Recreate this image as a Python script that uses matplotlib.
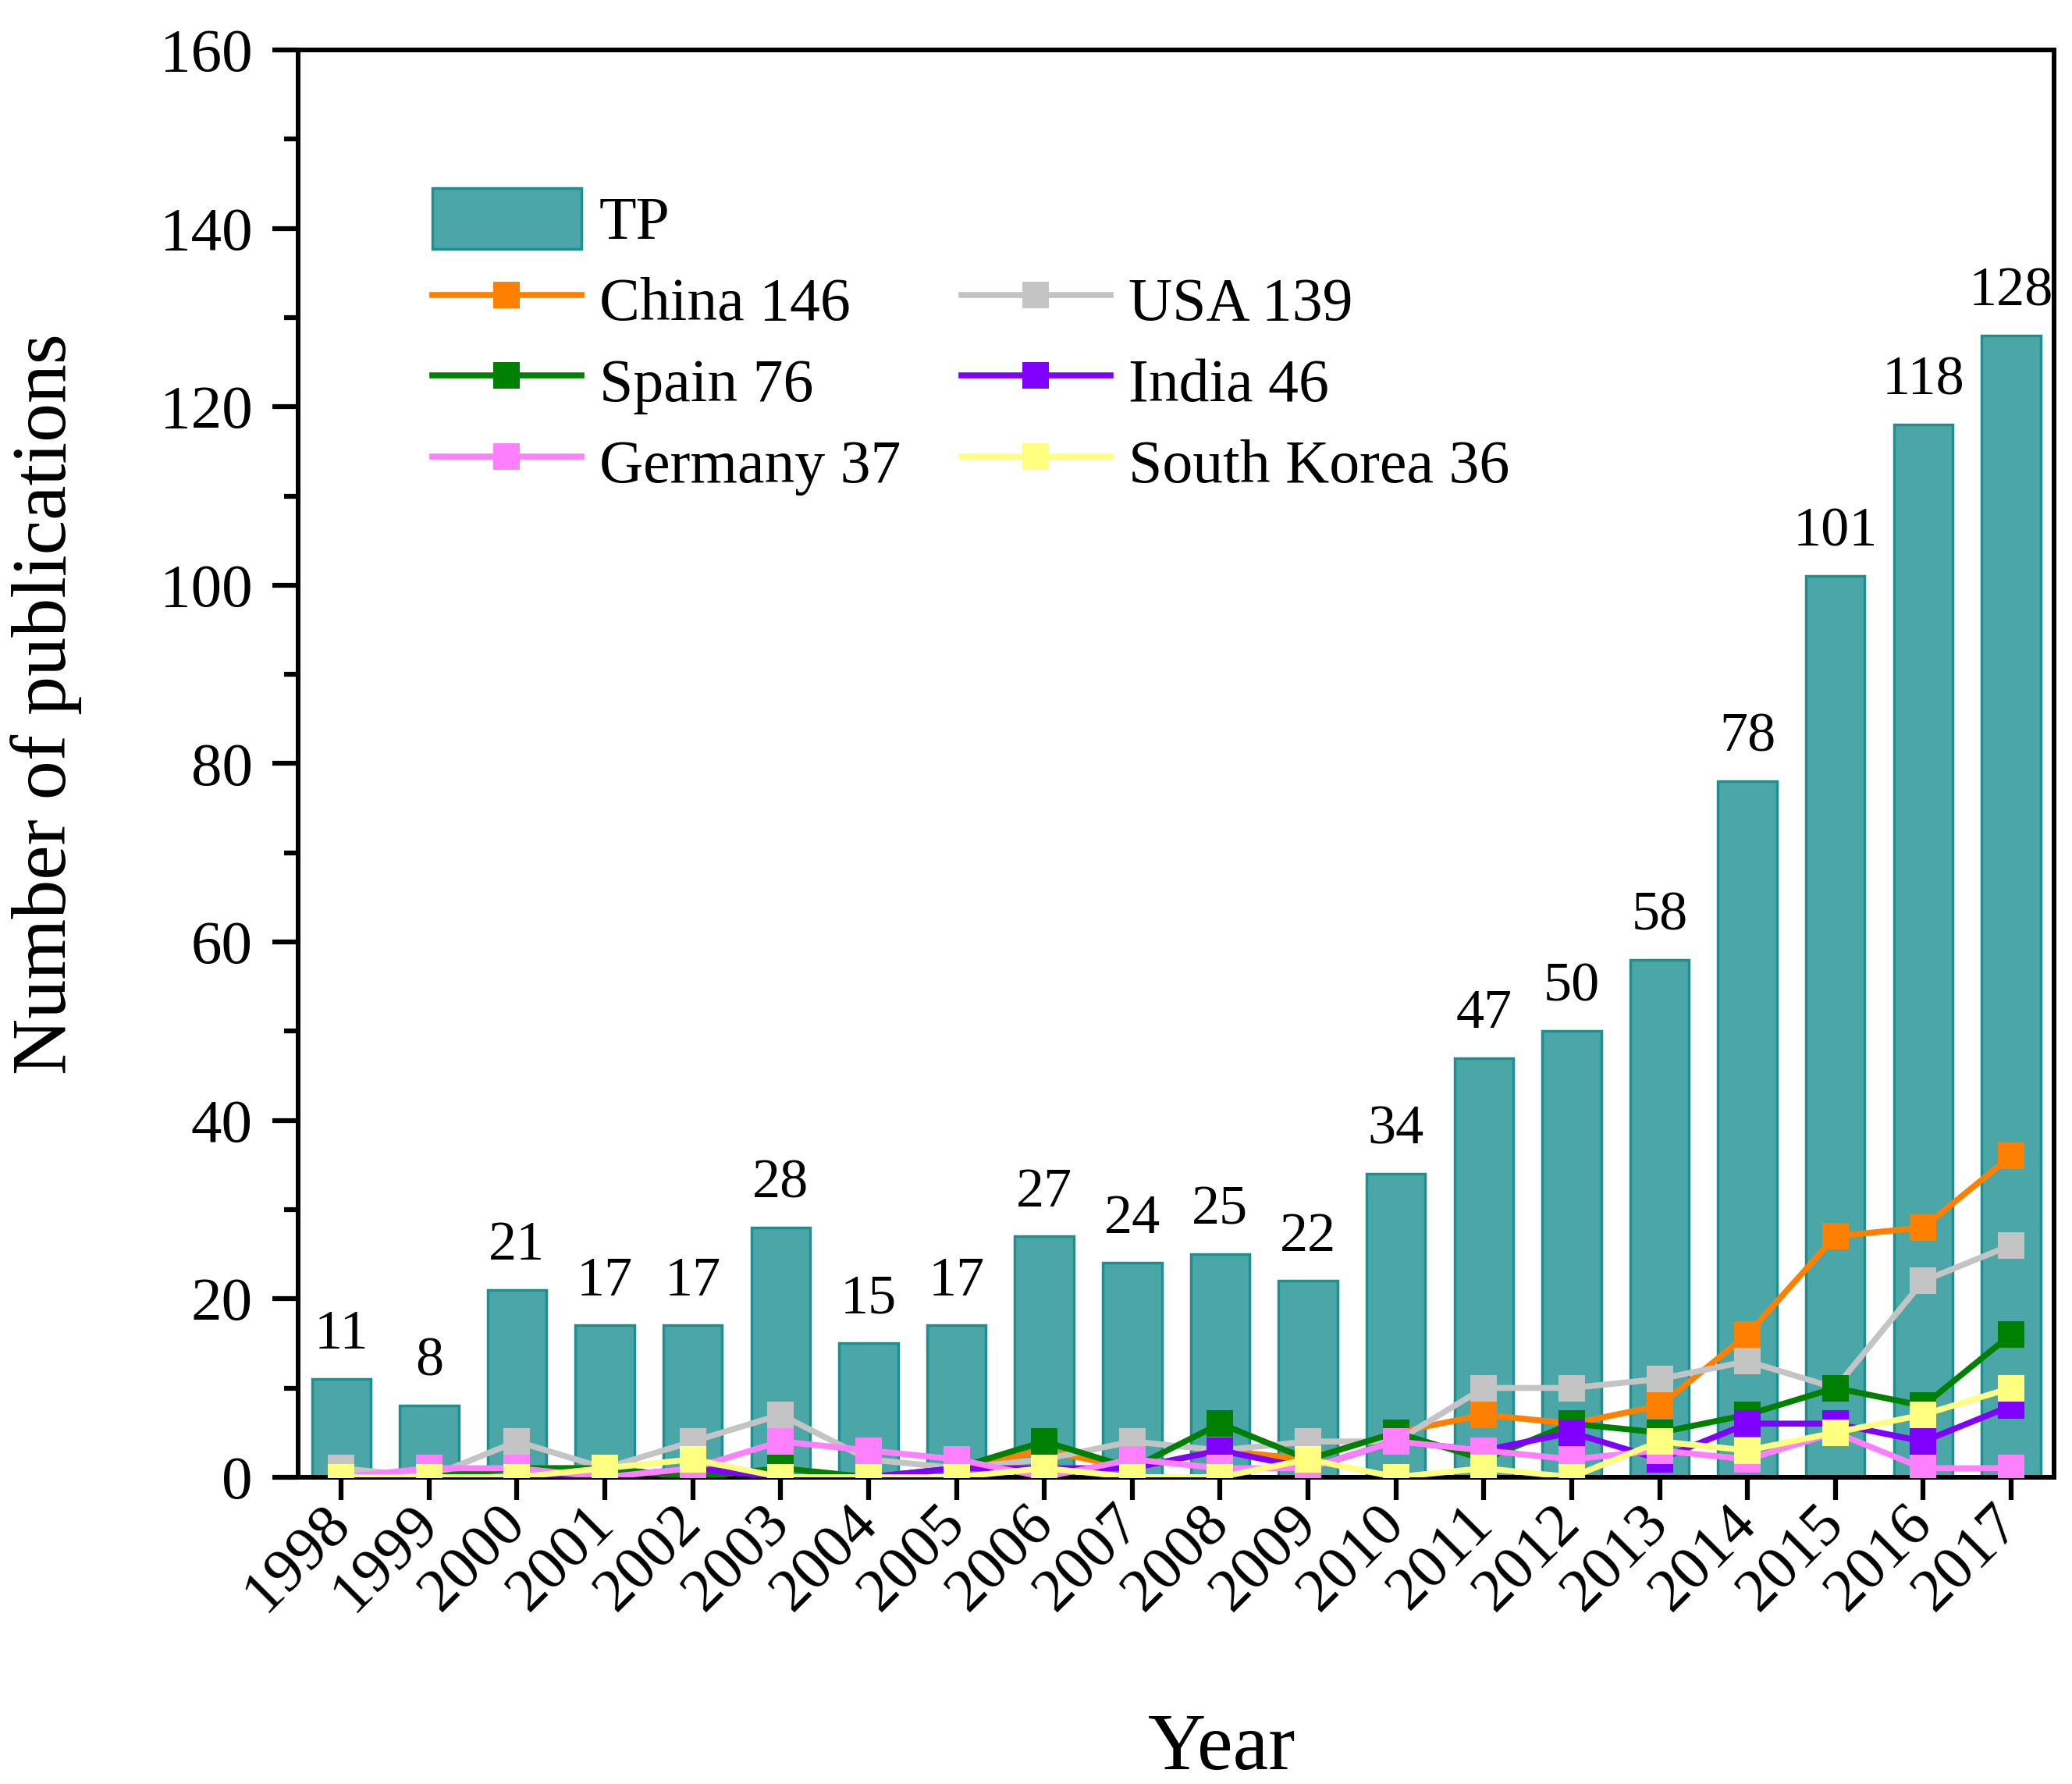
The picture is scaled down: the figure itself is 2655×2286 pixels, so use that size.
import numpy as np
import matplotlib
matplotlib.use("Agg")
import matplotlib.pyplot as plt
import matplotlib.transforms as mtransforms
from matplotlib.patches import Patch, Rectangle
from matplotlib.legend_handler import HandlerPatch

plt.rcParams["font.family"] = ["Liberation Serif", "DejaVu Serif"]

years = list(range(1998, 2018))
tp = [11, 8, 21, 17, 17, 28, 15, 17, 27, 24, 25, 22, 34, 47, 50, 58, 78, 101, 118, 128]

# per-country publications per year
china = [0, 0, 1, 1, 0, 1, 0, 1, 3, 1, 3, 2, 5, 7, 6, 8, 16, 27, 28, 36]
usa = [1, 0, 4, 1, 4, 7, 2, 1, 2, 4, 3, 4, 4, 10, 10, 11, 13, 10, 22, 26]
spain = [0, 0, 1, 1, 0, 1, 0, 1, 4, 1, 6, 2, 5, 2, 6, 5, 7, 10, 8, 16]
india = [0, 0, 0, 0, 1, 0, 0, 1, 1, 1, 3, 1, 4, 3, 5, 2, 6, 6, 4, 8]
germany = [0, 1, 1, 0, 1, 4, 3, 2, 0, 2, 1, 1, 4, 3, 2, 3, 2, 5, 1, 1]
korea = [0, 0, 0, 1, 2, 0, 0, 0, 1, 0, 0, 2, 0, 1, 0, 4, 3, 5, 7, 10]

series = [
    ("China 146", china, "#FF8000"),
    ("USA 139", usa, "#C4C4C4"),
    ("Spain 76", spain, "#008000"),
    ("India 46", india, "#8000FF"),
    ("Germany 37", germany, "#FF80FF"),
    ("South Korea 36", korea, "#FFFF80"),
]


def tall_patch(legend, orig_handle, xdescent, ydescent, width, height, fontsize):
    # legend box for TP is taller than the text rows
    extra = 0.3 * height
    return Rectangle((-xdescent, -ydescent - extra / 2), width, height + extra)


fig = plt.figure(figsize=(26.55, 22.86), dpi=100)
ax = fig.add_axes([0.1439, 0.172, 0.8475, 0.800])

bars = ax.bar(years, tp, width=0.67, color="#4BA7A7", edgecolor="#1E8E8E",
              linewidth=2.5, zorder=1, label="TP")
ax.bar_label(bars, labels=[str(v) for v in tp], padding=17, fontsize=52)

handles = {}
for name, vals, col in series:
    h, = ax.plot(years, vals, color=col, linewidth=5.5, marker="s",
                 markersize=24, markeredgewidth=0, label=name, zorder=3)
    handles[name] = h

ax.set_xlim(1997.51, 2017.49)
ax.set_ylim(0, 160)
ax.set_yticks(np.arange(0, 161, 20))
ax.set_yticks(np.arange(10, 160, 20), minor=True)
ax.set_xticks(years)
ax.set_xticklabels([str(y) for y in years], rotation=45, ha="right",
                   va="center", rotation_mode="anchor")
shift = mtransforms.ScaledTranslation(29 / 72, -15 / 72, fig.dpi_scale_trans)
for lab in ax.get_xticklabels():
    lab.set_transform(lab.get_transform() + shift)

for sp in ax.spines.values():
    sp.set_linewidth(4.3)
ax.tick_params(axis="both", which="major", direction="out", width=4.5,
               labelsize=57, top=False, right=False)
ax.tick_params(axis="y", which="major", length=24, pad=18)
ax.tick_params(axis="y", which="minor", length=13, width=4.5, direction="out")
ax.tick_params(axis="x", which="major", length=21, pad=14)

ax.set_xlabel("Year", fontsize=74)
ax.xaxis.set_label_coords(0.526, -0.165)
ax.set_ylabel("Number of publications", fontsize=72)
ax.yaxis.set_label_coords(-0.123, 0.542)

blank = Patch(facecolor="none", edgecolor="none", label="")
leg_handles = [bars, handles["China 146"], handles["Spain 76"], handles["Germany 37"],
               blank, handles["USA 139"], handles["India 46"], handles["South Korea 36"]]
leg_labels = ["TP", "China 146", "Spain 76", "Germany 37",
              "", "USA 139", "India 46", "South Korea 36"]
ax.legend(leg_handles, leg_labels, ncol=2, loc="upper left",
          bbox_to_anchor=(0.0764, 0.903), frameon=False, fontsize=56,
          handlelength=2.45, handleheight=1.15, handletextpad=0.3,
          labelspacing=0.28, columnspacing=1.0, borderpad=0, borderaxespad=0,
          handler_map={type(bars.patches[0]): HandlerPatch(patch_func=tall_patch)})

fig.savefig("out.png", dpi=100, facecolor="white")
